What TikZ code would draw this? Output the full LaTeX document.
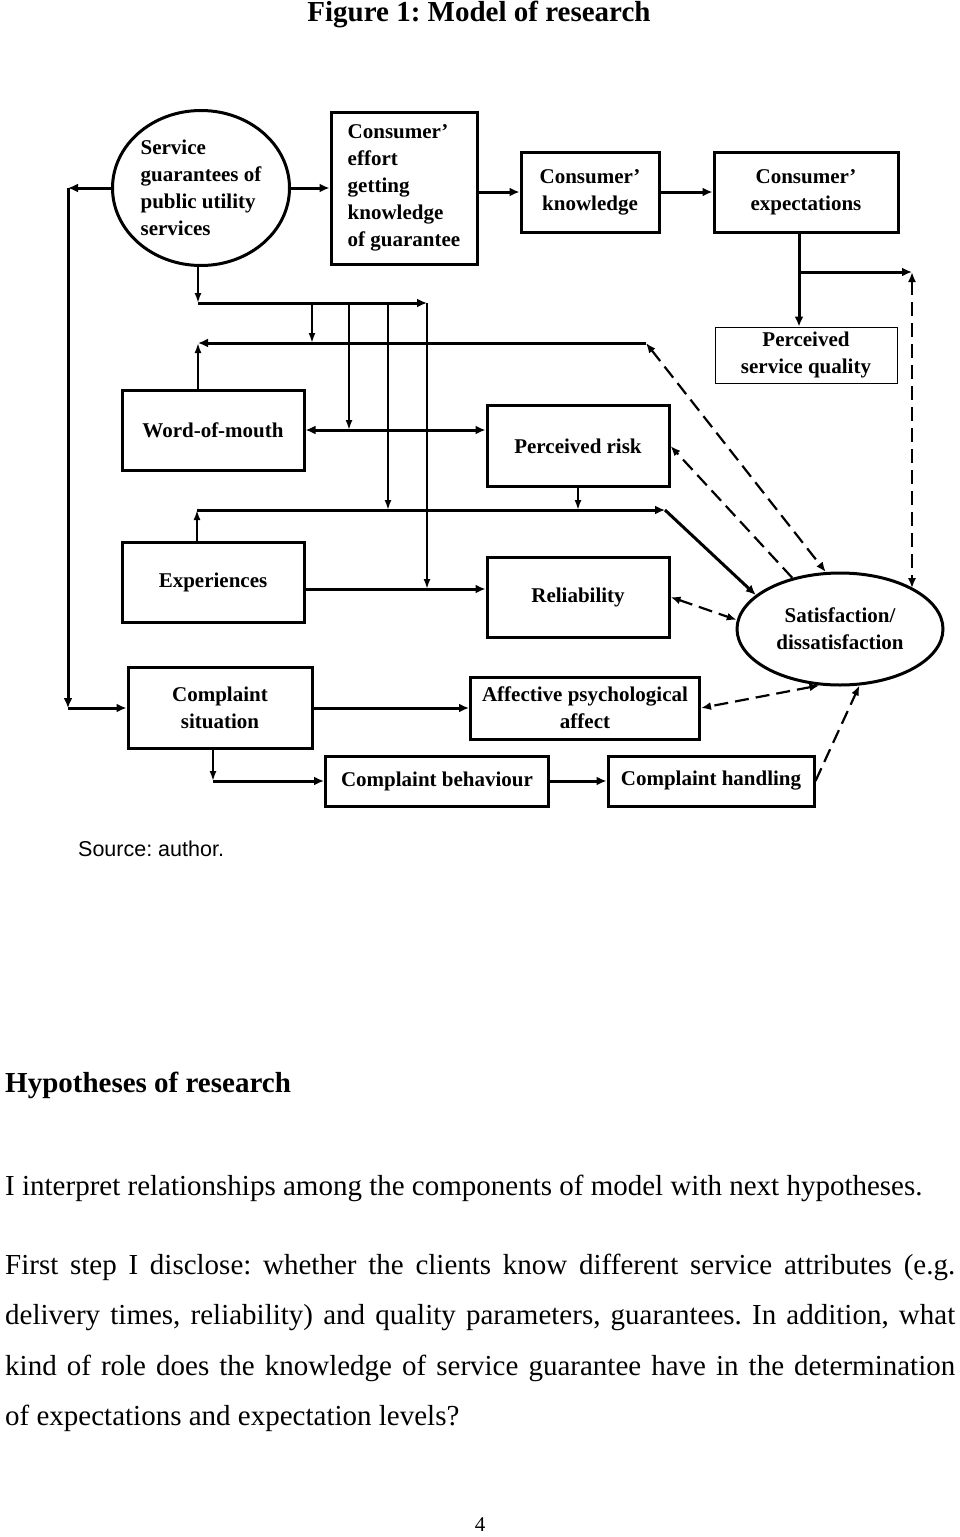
\documentclass[tikz,border=0pt]{standalone}
\usepackage{fontspec}
\setmainfont{Liberation Serif}
\newfontfamily\srcfont{Liberation Sans}
\usetikzlibrary{arrows.meta,shapes.geometric,positioning}
\frenchspacing
\tikzset{
  blk/.style={draw, line width=3pt, align=center, inner sep=1pt,
    font=\fontsize{21}{27}\selectfont\bfseries},
  arr/.style={line width=3pt, -{Latex[length=10pt,width=9pt]}},
  thn/.style={line width=1.8pt, -{Latex[length=10pt,width=7pt]}},
  dsh/.style={line width=2.2pt, dash pattern=on 14pt off 7pt, -{Latex[length=10pt,width=8pt]}},
  body/.style={anchor=west, inner sep=0pt, font=\fontsize{29}{34}\selectfont}
}
\begin{document}
\begin{tikzpicture}[x=1pt, y=-1pt]
  \useasboundingbox (0,0) rectangle (960,1537);
  \node[font=\fontsize{29}{34}\selectfont\bfseries] (title) at (479,14) {Figure 1: Model of research};

  % upper row
  \node[blk, ellipse, minimum width=177pt, minimum height=155pt, align=left, inner sep=0pt] (ell) at (201,188)
    {Service\\guarantees of\\public utility\\services};
  \node[blk, minimum width=146pt, minimum height=152pt, align=left] (eff) at (404,188)
    {Consumer'\\effort\\getting\\knowledge\\of guarantee};
  \node[blk, minimum width=138pt, minimum height=80pt] (know) at (590,192) {Consumer'\\knowledge};
  \node[blk, minimum width=184pt, minimum height=80pt] (expe) at (806,192) {Consumer'\\expectations};
  \node[blk, line width=1pt, minimum width=182pt, minimum height=56pt] (psq) at (806,355) {Perceived\\service quality};

  % middle
  \node[blk, minimum width=182pt, minimum height=80pt] (wom) at (213,430) {Word-of-mouth};
  \node[blk, minimum width=182pt, minimum height=81pt] (risk) at (578,446) {Perceived risk};
  \node[blk, minimum width=182pt, minimum height=80pt] (exps) at (213,582) {Experiences};
  \node[blk, minimum width=182pt, minimum height=80pt] (rel) at (578,597) {Reliability};
  \node[blk, ellipse, minimum width=206pt, minimum height=112pt, inner sep=0pt] (sat) at (840,629) {Satisfaction/\\dissatisfaction};

  % lower
  \node[blk, minimum width=184pt, minimum height=81pt] (sit) at (220,708) {Complaint\\situation};
  \node[blk, minimum width=229pt, minimum height=62pt] (aff) at (585,708) {Affective psychological\\affect};
  \node[blk, minimum width=223pt, minimum height=50pt] (beh) at (437,781) {Complaint behaviour};
  \node[blk, minimum width=206pt, minimum height=50pt] (han) at (711,781) {Complaint handling};

  % junction points
  \coordinate (lft) at (68,188);
  \coordinate (e1) at (799,272);
  \coordinate (e2) at (912,272);
  \coordinate (b0) at (198,303);
  \coordinate (b1) at (312,303);
  \coordinate (b2) at (349,303);
  \coordinate (b3) at (388,303);
  \coordinate (b4) at (427,303);
  \coordinate (w0) at (198,343);
  \coordinate (w1) at (646,343);
  \coordinate (x0) at (197,510);
  \coordinate (x1) at (665,510);
  \coordinate (r4) at (427,589);
  \coordinate (s0) at (213,781);

  % top chain
  \draw[arr] (ell.east) -- (eff.west);
  \draw[arr] (eff.east |- know) -- (know.west);
  \draw[arr] (know) -- (expe);
  \draw[arr] (expe.south -| e1) -- (psq.north -| e1);
  \draw[arr] (e1) -- (e2);
  \draw[dsh, {Latex[length=10pt,width=8pt]}-{Latex[length=10pt,width=8pt]}] (e2) -- (e2 |- sat.29);

  % left loop
  \draw[arr] (ell.west) -- (lft);
  \draw[arr] (lft) -- (lft |- sit.west);
  \draw[arr] (lft |- sit.west) -- (sit.west);

  % guarantee bus
  \draw[thn] (ell.south -| b0) -- (b0);
  \draw[arr] (b0) -- (b4);
  \draw[thn] (b1) -- (b1 |- w0);
  \draw[thn] (b2) -- (b2 |- wom.east);
  \draw[thn] (b3) -- (b3 |- x0);
  \draw[thn] (b4) -- (r4);

  % word-of-mouth bus
  \draw[arr] (w1) -- (w0);
  \draw[thn] (wom.north -| w0) -- (w0);
  \draw[arr, {Latex[length=10pt,width=9pt]}-{Latex[length=10pt,width=9pt]}] (wom.east) -- (wom.east -| risk.west);
  \draw[dsh, {Latex[length=10pt,width=8pt]}-{Latex[length=10pt,width=8pt]}] (w1) -- (sat.104);

  % experience bus
  \draw[thn] (risk.south) -- (risk.south |- x0);
  \draw[thn] (exps.north -| x0) -- (x0);
  \draw[arr] (x0) -- (x1);
  \draw[arr] (x1) -- (sat.158);
  \draw[dsh] (sat.133) -- (risk.east);
  \draw[arr] (exps.east |- r4) -- (rel.west |- r4);
  \draw[dsh, {Latex[length=10pt,width=8pt]}-{Latex[length=10pt,width=8pt]}] (rel.east) -- (sat.175);

  % complaints
  \draw[arr] (sit.east) -- (aff.west);
  \draw[dsh, {Latex[length=10pt,width=8pt]}-{Latex[length=10pt,width=8pt]}] (sat.250) -- (aff.east);
  \draw[thn] (sit.south -| s0) -- (s0);
  \draw[arr] (s0) -- (beh.west);
  \draw[arr] (beh) -- (han);
  \draw[dsh] (han.east) -- (sat.289);

  % text below
  \node[anchor=west, inner sep=0pt, font=\srcfont\fontsize{21.5}{25}\selectfont] (src) at (78,849) {Source: author.};
  \node[body, font=\fontsize{29}{34}\selectfont\bfseries] (hyp) at (5,1085) {Hypotheses of research};
  \node[body] (p1) at (5,1188) {I interpret relationships among the components of model with next hypotheses.};
  \node[body] (p2) at (5,1267) {\makebox[950pt][s]{First step I disclose: whether the clients know different service attributes (e.g.}};
  \node[body] (p3) at (5,1318) {\makebox[950pt][s]{delivery times, reliability) and quality parameters, guarantees. In addition, what}};
  \node[body] (p4) at (5,1368) {\makebox[950pt][s]{kind of role does the knowledge of service guarantee have in the determination}};
  \node[body] (p5) at (5,1418) {of expectations and expectation levels?};
  \node[font=\fontsize{21}{24}\selectfont] (pg) at (480,1525) {4};
\end{tikzpicture}
\end{document}
